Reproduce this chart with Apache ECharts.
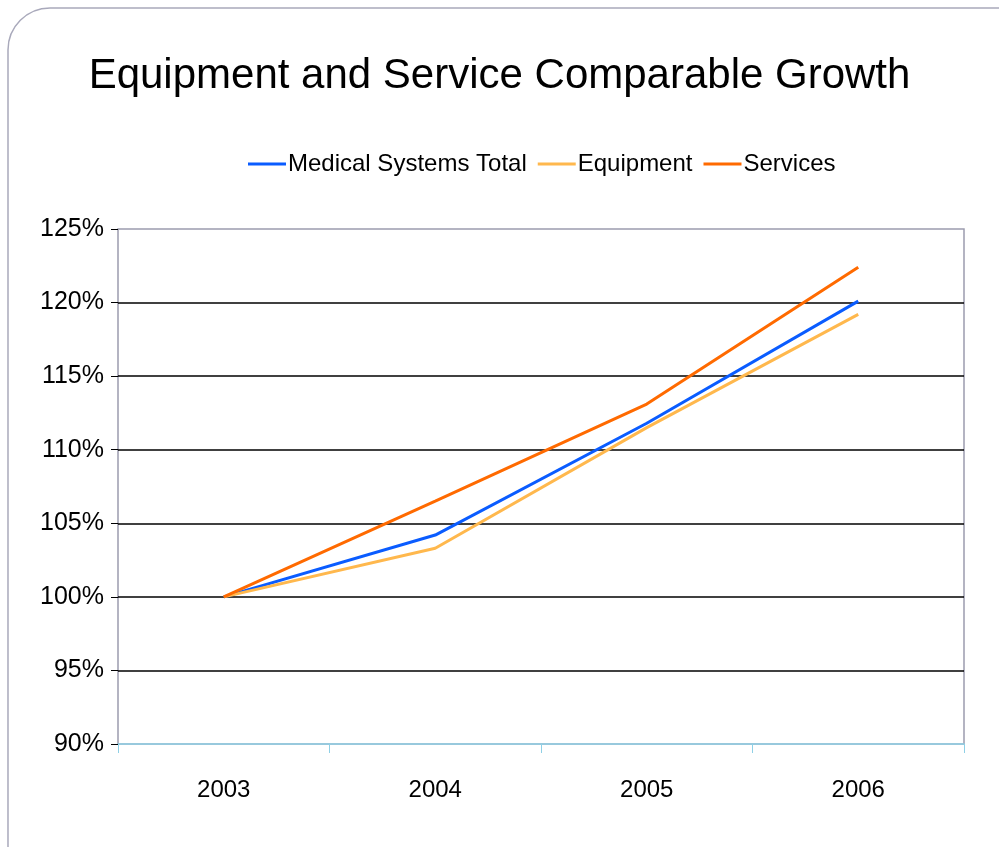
<!DOCTYPE html>
<html>
<head>
<meta charset="utf-8">
<script src="https://cdn.jsdelivr.net/npm/echarts@6/dist/echarts.min.js"></script>
<style>
  html, body { margin: 0; padding: 0; background: #ffffff; }
  #chart { width: 999px; height: 847px; }
</style>
</head>
<body>
<div id="chart"></div>
<script>
// Comparable growth indexed to 2003 = 100%
const years = ['2003', '2004', '2005', '2006'];
const medicalSystemsTotal = [100, 104.2, 111.8, 120.1];
const equipment = [100, 103.3, 111.5, 119.2];
const services = [100, 106.5, 113.1, 122.4];
const yTicks = { min: 90, max: 125, step: 5 };

const FONT = '"Liberation Sans", Arial, sans-serif';

const chart = echarts.init(document.getElementById('chart'), null, { renderer: 'canvas' });

function lineSeries(name, data, color) {
  return {
    name: name,
    type: 'line',
    data: data,
    symbol: 'none',
    lineStyle: { color: color, width: 3 },
    itemStyle: { color: color },
    z: 3
  };
}

chart.setOption({
  backgroundColor: '#ffffff',
  animation: false,
  graphic: [
    {
      type: 'rect',
      shape: { x: 8, y: 8, width: 1030, height: 880, r: 42 },
      style: { fill: 'none', stroke: '#a9a9bb', lineWidth: 1.5 },
      silent: true,
      z: 0
    }
  ],
  title: {
    text: 'Equipment and Service Comparable Growth',
    left: 'center',
    top: 50,
    textStyle: { fontFamily: FONT, fontSize: 42, fontWeight: 'normal', color: '#000000' }
  },
  legend: {
    top: 147,
    left: 243,
    itemWidth: 38,
    itemHeight: 3,
    itemGap: 11,
    icon: 'rect',
    textStyle: { fontFamily: FONT, fontSize: 24, color: '#000000', padding: [0, 0, 0, -3] },
    data: ['Medical Systems Total', 'Equipment', 'Services']
  },
  grid: { left: 118, right: 35, top: 229, bottom: 103, show: true, borderColor: '#9c9cae', borderWidth: 1.5, backgroundColor: 'transparent' },
  xAxis: {
    type: 'category',
    data: years,
    boundaryGap: true,
    axisLine: { lineStyle: { color: '#8fd0e6', width: 1.5 } },
    axisTick: { show: true, length: 9, lineStyle: { color: '#8fd0e6' } },
    axisLabel: { fontFamily: FONT, fontSize: 24, color: '#000000', margin: 34 },
    splitLine: { show: false }
  },
  yAxis: {
    type: 'value',
    min: yTicks.min,
    max: yTicks.max,
    interval: yTicks.step,
    axisLine: { show: false },
    axisTick: { show: true, length: 7, lineStyle: { color: '#000000' } },
    axisLabel: { fontFamily: FONT, fontSize: 25, color: '#000000', margin: 14, formatter: v => v + '%' },
    splitLine: { show: true, showMinLine: false, showMaxLine: false, lineStyle: { color: '#000000', width: 1.5 } }
  },
  series: [
    lineSeries('Medical Systems Total', medicalSystemsTotal, '#0a5cff'),
    lineSeries('Equipment', equipment, '#ffb84d'),
    lineSeries('Services', services, '#ff6a00')
  ]
});
</script>
</body>
</html>
